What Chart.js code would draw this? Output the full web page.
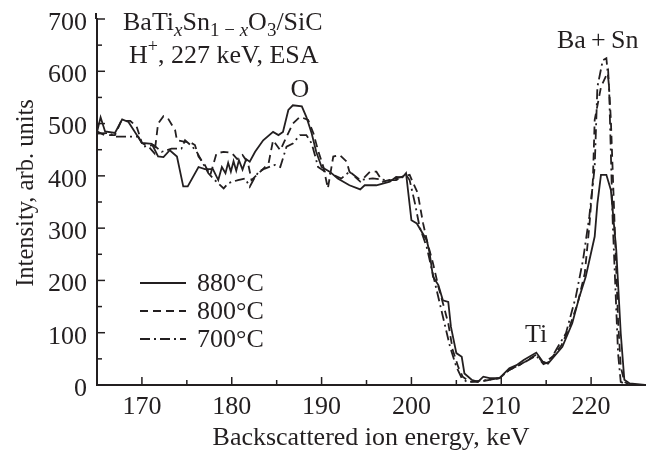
<!DOCTYPE html>
<html>
<head>
<meta charset="utf-8">
<script src="https://cdn.jsdelivr.net/npm/chart.js@4.4.1/dist/chart.umd.min.js"></script>
<style>
  html, body { margin: 0; padding: 0; background: #fff; }
  canvas { display: block; }
</style>
</head>
<body>
<canvas id="rbs" width="651" height="453"></canvas>
<script>
// Spectra (energy in keV, intensity in arb. units)
const x880 = [165, 165.4, 165.9, 167, 167.8, 168.5, 170, 171.1, 171.8, 172.4,
  173.1, 173.9, 174.6, 175.1, 176.3, 177, 177.9, 178.5, 178.9, 179.3,
  179.6, 179.9, 180.2, 180.5, 180.8, 181.2, 181.6, 182, 182.6, 183.5,
  184.6, 185.2, 185.7, 186.3, 186.8, 187.8, 188.3, 188.9, 189.4, 190,
  190.9, 191.8, 193.1, 194.3, 194.8, 196.1, 197.6, 198.3, 199, 199.4,
  200, 200.6, 201.7, 202, 202.4, 203, 203.5, 204.1, 204.4, 205,
  205.6, 205.9, 206.7, 207.4, 208, 208.7, 209.8, 210.9, 211.7, 212.5,
  213.9, 214.6, 215.2, 216.8, 217.9, 218.7, 219.4, 220.4, 220.7, 221.1,
  221.7, 222.2, 222.8, 223.3, 223.7, 224.3, 226];
const y880 = [484, 512, 485, 482, 508, 503, 463, 461, 437, 436,
  449, 437, 380, 380, 417, 413, 413, 392, 417, 405,
  425, 408, 428, 410, 430, 412, 432, 427, 446, 468,
  484, 478, 484, 526, 535, 533, 513, 481, 446, 417,
  408, 395, 382, 374, 382, 382, 389, 398, 397, 405,
  315, 309, 277, 255, 207, 191, 162, 159, 111, 61,
  54, 22, 10, 6, 16, 13, 13, 32, 38, 48,
  62, 45, 41, 73, 118, 169, 207, 284, 347, 402,
  402, 373, 258, 99, 10, 3, 0];

const x800 = [165, 165.8, 167, 167.7, 168.7, 169.4, 170, 170.8, 171.4, 171.8,
  172.4, 172.9, 173.7, 173.9, 174.8, 175.3, 175.9, 176.3, 177, 177.6,
  178.3, 179.1, 180, 180.6, 181.2, 181.8, 182.2, 183.3, 184.1, 184.6,
  185.4, 186.1, 186.8, 187.6, 188.5, 189.1, 189.6, 190.2, 190.7, 191.3,
  192, 192.8, 193.1, 194.3, 195.4, 196.1, 196.8, 198.3, 199.8, 200.2,
  200.7, 201.3, 201.8, 202.4, 203, 203.5, 204.1, 204.6, 205.2, 205.7,
  206.5, 207.5, 208.7, 209.8, 210.9, 212, 213.9, 214.7, 215.7, 216.7,
  217.6, 218.5, 219.3, 219.8, 220.2, 220.4, 221.1, 221.9, 222.2, 222.4,
  222.6, 222.8, 223, 223.3, 223.7, 224.3, 226];
const y800 = [485, 478, 478, 505, 505, 495, 463, 455, 443, 500,
  514, 510, 487, 468, 465, 465, 459, 437, 421, 401,
  443, 446, 444, 432, 440, 425, 392, 410, 424, 468,
  449, 475, 500, 513, 507, 481, 449, 417, 376, 437,
  440, 427, 408, 389, 408, 408, 389, 395, 402, 386,
  367, 309, 271, 233, 188, 157, 118, 67, 35, 16,
  6, 6, 10, 13, 29, 38, 58, 42, 54, 76,
  111, 156, 214, 303, 392, 507, 570, 600, 507, 411,
  315, 220, 124, 35, 6, 0, 0];

const x700 = [165, 166.3, 167, 168.2, 169.6, 170.2, 171.3, 172.2, 173.3, 174.4,
  174.8, 175.6, 176.1, 176.7, 177.4, 178.1, 179.1, 179.6, 180.7, 181.5,
  182, 182.4, 183, 183.7, 184.8, 185.4, 186.1, 186.8, 187.6, 188.3,
  188.9, 189.3, 189.6, 190.4, 191.3, 192.2, 193.1, 194.3, 195.7, 197.2,
  198.3, 199.4, 199.8, 200.4, 200.9, 201.7, 202.2, 202.8, 203.5, 204.3,
  205, 205.6, 206.2, 207.5, 208.7, 209.8, 210.9, 212, 213.9, 214.7,
  215.4, 216.1, 217.2, 218.3, 219.1, 219.8, 220.4, 220.7, 221.3, 221.7,
  222, 222.2, 222.4, 222.7, 223, 223.3, 224, 226];
const y700 = [481, 482, 475, 475, 475, 456, 459, 446, 452, 452,
  468, 456, 446, 427, 405, 392, 376, 386, 392, 395,
  379, 392, 408, 414, 421, 417, 456, 462, 478, 478,
  462, 437, 417, 408, 402, 395, 408, 392, 395, 392,
  392, 402, 392, 347, 303, 264, 226, 182, 131, 73,
  35, 13, 6, 8, 10, 13, 29, 38, 56, 40,
  45, 67, 99, 169, 239, 322, 417, 570, 621, 625,
  570, 443, 315, 188, 61, 6, 0, 0];

const seriesLabels = ['880°C', '800°C', '700°C'];
const xTicksMajor = [170, 180, 190, 200, 210, 220];
const yTicksMajor = [0, 100, 200, 300, 400, 500, 600, 700];

const ink = '#231f20';
const serif = '"Liberation Serif", "Times New Roman", serif';
const dashes = [[], [8, 5], [10, 4, 2, 4]];

function pts(xs, ys) {
  return xs.map((x, i) => ({ x: x, y: ys[i] }));
}

// draw a line of text made of runs (subscripts, italics)
function drawRuns(ctx, x, y, runs) {
  runs.forEach(r => {
    ctx.font = (r.italic ? 'italic ' : '') + r.size + 'px ' + serif;
    ctx.fillText(r.t, x, y + (r.dy || 0));
    x += ctx.measureText(r.t).width;
  });
}

const decor = {
  id: 'decor',
  afterDraw(chart) {
    const ctx = chart.ctx;
    const xs = chart.scales.x, ys = chart.scales.y;
    const a = chart.chartArea;
    ctx.save();
    ctx.strokeStyle = ink;
    ctx.fillStyle = ink;

    // y axis runs a little past 700
    ctx.lineWidth = 2;
    ctx.beginPath(); ctx.moveTo(a.left - 1, a.top); ctx.lineTo(a.left - 1, a.top - 6); ctx.stroke();

    // inward tick marks
    ctx.lineWidth = 1.5;
    ys.ticks.forEach(t => {
      if (t.value % 50 !== 0) return;
      const p = ys.getPixelForValue(t.value);
      const len = t.value % 100 === 0 ? 8 : 5;
      ctx.beginPath(); ctx.moveTo(a.left, p); ctx.lineTo(a.left + len, p); ctx.stroke();
    });
    xs.ticks.forEach(t => {
      if (t.value % 5 !== 0 || t.value <= 165) return;
      const p = xs.getPixelForValue(t.value);
      const len = t.value % 10 === 0 ? 8 : 5;
      ctx.beginPath(); ctx.moveTo(p, a.bottom); ctx.lineTo(p, a.bottom - len); ctx.stroke();
    });

    // axis titles
    ctx.textBaseline = 'alphabetic';
    ctx.textAlign = 'center';
    ctx.font = '26px ' + serif;
    ctx.fillText('Backscattered ion energy, keV', 371, 445);
    ctx.save();
    ctx.font = '24.5px ' + serif;
    ctx.translate(33, 193);
    ctx.rotate(-Math.PI / 2);
    ctx.fillText('Intensity, arb. units', 0, 0);
    ctx.restore();

    // annotations
    ctx.textAlign = 'left';
    drawRuns(ctx, 123, 30, [
      { t: 'BaTi', size: 26 },
      { t: 'x', size: 19, italic: true, dy: 6 },
      { t: 'Sn', size: 26 },
      { t: '1 − ', size: 19, dy: 6 },
      { t: 'x', size: 19, italic: true, dy: 6 },
      { t: 'O', size: 26 },
      { t: '3', size: 19, dy: 6 },
      { t: '/SiC', size: 26 }
    ]);
    drawRuns(ctx, 129, 63, [
      { t: 'H', size: 26 },
      { t: '+', size: 18, dy: -11 },
      { t: ', 227 keV, ESA', size: 26 }
    ]);
    ctx.font = '26px ' + serif;
    ctx.textAlign = 'center';
    ctx.fillText('O', 300, 97);
    ctx.textAlign = 'left';
    ctx.fillText('Ti', 525, 342);
    ctx.fillText('Ba\u2009+\u2009Sn', 557, 48);

    // legend
    const rows = [283, 311, 339];
    chart.data.datasets.forEach((ds, i) => {
      ctx.setLineDash(ds.borderDash || []);
      ctx.lineWidth = 2;
      ctx.beginPath(); ctx.moveTo(140, rows[i]); ctx.lineTo(186, rows[i]); ctx.stroke();
      ctx.setLineDash([]);
      ctx.textBaseline = 'middle';
      ctx.fillText(ds.label, 197, rows[i] + 1);
    });
    ctx.restore();
  }
};

new Chart(document.getElementById('rbs'), {
  type: 'line',
  data: {
    datasets: [
      { label: seriesLabels[0], data: pts(x880, y880), borderDash: dashes[0] },
      { label: seriesLabels[1], data: pts(x800, y800), borderDash: dashes[1] },
      { label: seriesLabels[2], data: pts(x700, y700), borderDash: dashes[2] }
    ].map(d => Object.assign(d, {
      borderColor: ink, borderWidth: 1.8, pointRadius: 0, tension: 0, fill: false
    }))
  },
  options: {
    responsive: false,
    animation: false,
    devicePixelRatio: 1,
    layout: { padding: { top: 19, right: 6, left: 0, bottom: 0 } },
    plugins: { legend: { display: false }, tooltip: { enabled: false } },
    scales: {
      x: {
        type: 'linear', min: 165, max: 226,
        grid: { display: false, drawTicks: false },
        border: { display: true, color: ink, width: 2 },
        ticks: {
          stepSize: 5, padding: 7, color: ink, maxRotation: 0, autoSkip: false,
          font: { family: serif, size: 26 },
          callback: v => xTicksMajor.includes(v) ? String(v) : ''
        },
        afterFit: s => { s.height = 68; s.paddingLeft = 0; s.paddingRight = 0; }
      },
      y: {
        min: 0, max: 700,
        grid: { display: false, drawTicks: false },
        border: { display: true, color: ink, width: 2 },
        ticks: {
          stepSize: 50, padding: 10, labelOffset: 4, color: ink, autoSkip: false,
          font: { family: serif, size: 26 },
          callback: v => yTicksMajor.includes(v) ? String(v) : ''
        },
        afterFit: s => { s.width = 97; s.paddingTop = 0; s.paddingBottom = 0; }
      }
    }
  },
  plugins: [decor]
});
</script>
</body>
</html>
